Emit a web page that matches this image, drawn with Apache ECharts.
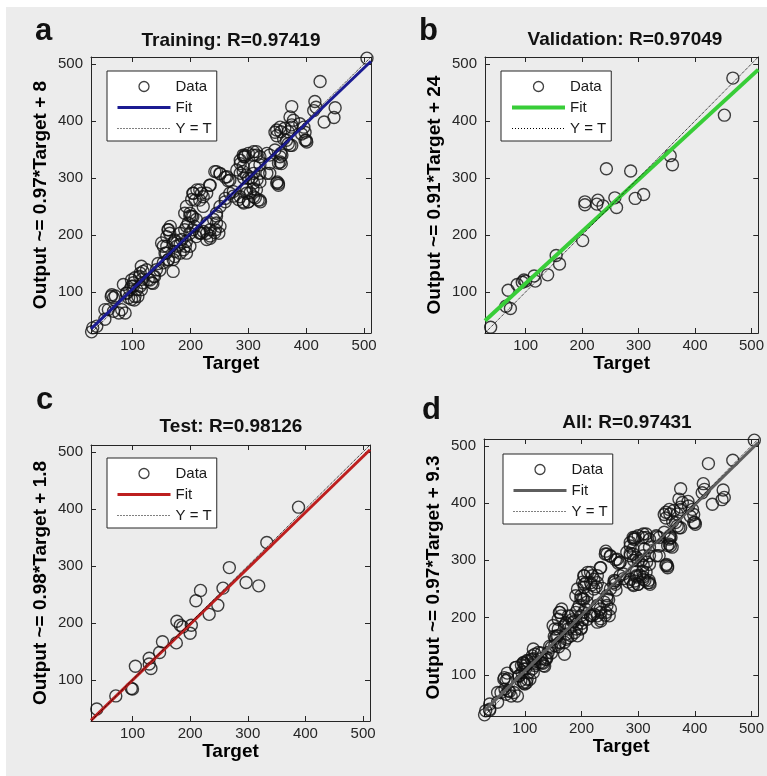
<!DOCTYPE html>
<html>
<head>
<meta charset="utf-8">
<script src="https://cdn.jsdelivr.net/npm/echarts@6/dist/echarts.min.js"></script>
<style>
  html, body { margin: 0; padding: 0; background: #fff; }
  #main { width: 767px; height: 776px; }
</style>
</head>
<body>
<div id="main"></div>
<script>
// [Target, Output] pairs
const trainData = [
  [505,510],[424,469],[415,434],[417,424],[413,418],[450,423],[448,406],[431,398],
  [375,425],[372,407],[378,401],[375,389],[349,384],[356,381],[363,387],[369,381],
  [389,395],[396,389],[398,380],[400,366],[401,363],[366,366],[375,357],[356,343],[357,325],
  [350,293],[352,287],[337,308],[320,337],[332,343],[337,325],[314,340],[311,320],[309,308],
  [291,340],[294,337],[286,325],[291,320],[280,314],[286,308],[297,305],
  [314,279],[320,261],[297,273],[309,267],[317,261],[291,258],[300,258],[286,267],
  [274,276],[268,273],[263,302],[268,296],[245,311],[251,308],[260,264],[251,250],[245,238],
  [234,287],[228,273],[204,273],[208,261],[216,279],[216,261],[222,267],
  [199,238],[204,232],[210,227],[193,215],[199,203],[204,209],[210,197],[216,203],[222,206],[228,203],[234,194],
  [240,227],[245,233],[251,215],[243,209],[249,203],[234,209],
  [182,203],[185,192],[191,180],[193,189],[199,180],
  [162,209],[164,203],[170,186],[176,180],[182,168],[173,162],
  [159,180],[156,168],[162,157],[153,151],[170,136],[170,157],
  [141,139],[136,127],[127,122],[118,116],[133,116],[124,139],[113,133],[116,122],
  [101,116],[107,104],[104,92],[98,87],[113,110],[90,98],[84,113],[93,90],[98,110],
  [64,95],[67,90],[70,93],[58,69],[67,66],[76,63],[87,63],[52,52],[38,40],[29,30],
  [31,37],[52,69],[63,92],[81,69],[89,98],[95,104],[101,110],[103,86],[109,92],[115,104],
  [98,121],[104,125],[112,127],[118,136],[115,145],[130,121],[135,115],[138,127],[147,138],[144,150],
  [161,156],[158,168],[150,186],[173,171],[182,183],
  [161,209],[173,189],[190,209],[196,221],[202,233],[207,215],[219,203],[228,221],[234,198],[190,238],
  [165,215],[159,197],[153,180],[173,191],[188,174],[193,168],
  [205,273],[211,279],[219,273],[202,262],[193,250],[199,233],[216,204],[228,192],[242,204],[245,221],[222,250],
  [242,311],[251,307],[260,301],[265,295],[233,287],[260,258],[274,268],[283,262],[292,256],
  [297,280],[303,274],[312,265],[321,258],[300,258],
  [286,331],[292,337],[300,343],[309,346],[320,323],[332,308],[349,291],[352,326],
  [346,349],[355,337],[292,300],[306,300],[309,291],[315,297],[320,308],
  [375,393],[355,389],[346,380],[349,374],[361,368],[372,357],[369,360],[392,377],[398,366],
  [337,340],[308,340],[314,346],[294,340],[355,328],[358,340],[352,290],[291,311],[300,299],[320,293],[308,281]
];
const valData = [
  [467,475],[452,410],[356,339],[360,323],[243,316],[286,312],[294,264],[309,271],
  [258,265],[261,248],[228,261],[226,254],[237,251],[205,258],[205,253],[201,190],
  [154,164],[160,149],[139,130],[115,128],[117,119],[97,121],[100,119],[94,117],
  [85,113],[69,103],[65,75],[73,71],[38,38]
];
const testData = [
  [503,513],[388,403],[333,341],[268,297],[297,271],[319,265],[257,261],[218,257],[210,239],
  [248,231],[233,215],[177,203],[183,196],[187,193],[202,196],[200,182],[176,165],
  [152,167],[147,148],[129,138],[129,128],[132,120],[105,124],[98,85],[100,84],[71,72],[38,49]
];
const allData = trainData.concat(valData, testData);

// fitted lines, end points at the axis limits
const fitTrain = [[28,35.2],[512,504.6]];
const fitVal = [[28,49.5],[512,489.9]];
const fitTest = [[28,29.2],[512,503.6]];
const fitAll = [[28,36.5],[512,505.9]];
const identity = [[28,28],[512,512]];

const axisMin = 28, axisMax = 512;
const tickValues = [100, 200, 300, 400, 500];

const FONT = 'Liberation Sans, Arial, Helvetica, sans-serif';

const panels = [
  { key: 'a', title: 'Training: R=0.97419', yName: 'Output ~= 0.97*Target + 8', data: trainData, fit: fitTrain,
    color: '#1b1b92', fitWidth: 3, grid: { left: 91, top: 57, width: 280, height: 276 },
    titlePos: [231, 41], letterPos: [35, 31], legendPos: [107, 71] },
  { key: 'b', title: 'Validation: R=0.97049', yName: 'Output ~= 0.91*Target + 24', data: valData, fit: fitVal,
    color: '#38cd38', fitWidth: 4, grid: { left: 485, top: 57, width: 279, height: 276 },
    titlePos: [625, 40], letterPos: [419, 31], legendPos: [501, 71] },
  { key: 'c', title: 'Test: R=0.98126', yName: 'Output ~= 0.98*Target + 1.8', data: testData, fit: fitTest,
    color: '#bd1f1f', fitWidth: 3, grid: { left: 91, top: 445, width: 279, height: 276 },
    titlePos: [231, 427], letterPos: [36, 400], legendPos: [107, 458] },
  { key: 'd', title: 'All: R=0.97431', yName: 'Output ~= 0.97*Target + 9.3', data: allData, fit: fitAll,
    color: '#5e5e5e', fitWidth: 3, grid: { left: 484, top: 439, width: 281, height: 277 },
    titlePos: [627, 423], letterPos: [422, 410], legendPos: [503, 454] }
];

const boxColor = '#262626';
const noMarker = { color: 'rgba(0,0,0,0)', borderColor: 'rgba(0,0,0,0)', borderWidth: 0, opacity: 0 };

const grid = [], xAxis = [], yAxis = [], series = [], legend = [];
const graphic = [
  { type: 'rect', shape: { x: 6, y: 7, width: 767, height: 776 }, style: { fill: '#ececec' }, z: -10, silent: true }
];

panels.forEach((p, i) => {
  grid.push(p.grid);
  const common = {
    type: 'value', min: axisMin, max: axisMax, gridIndex: i,
    splitLine: { show: false },
    axisLine: { show: true, lineStyle: { color: boxColor, width: 1 } },
    axisTick: { show: true, inside: true, length: 5, customValues: tickValues, lineStyle: { color: boxColor } }
  };
  xAxis.push(Object.assign({}, common, {
    position: 'bottom',
    name: 'Target', nameLocation: 'middle', nameGap: 18,
    nameTextStyle: { fontFamily: FONT, fontSize: 19, fontWeight: 'bold', color: '#000' },
    axisLabel: { customValues: tickValues, fontFamily: FONT, fontSize: 15, color: '#262626', margin: 5 }
  }));
  xAxis.push(Object.assign({}, common, { position: 'top', axisLabel: { show: false } }));
  yAxis.push(Object.assign({}, common, {
    position: 'left',
    name: p.yName, nameLocation: 'middle', nameGap: 41,
    nameTextStyle: { fontFamily: FONT, fontSize: 19, fontWeight: 'bold', color: '#000' },
    axisLabel: { customValues: tickValues, fontFamily: FONT, fontSize: 15, color: '#262626', margin: 8 }
  }));
  yAxis.push(Object.assign({}, common, { position: 'right', axisLabel: { show: false } }));

  series.push({
    name: p.key + '|Data', type: 'scatter', xAxisIndex: i * 2, yAxisIndex: i * 2,
    data: p.data, symbol: 'circle', symbolSize: 12, z: 2,
    itemStyle: { color: 'rgba(0,0,0,0)', borderColor: '#111', borderWidth: 1.4 },
    emphasis: { disabled: true }
  });
  series.push({
    name: p.key + '|Fit', type: 'line', xAxisIndex: i * 2, yAxisIndex: i * 2,
    data: p.fit, symbol: 'none', z: 3, clip: true,
    lineStyle: { color: p.color, width: p.fitWidth }, itemStyle: { color: p.color }
  });
  series.push({
    name: p.key + '|Y = T', type: 'line', xAxisIndex: i * 2, yAxisIndex: i * 2,
    data: identity, symbol: 'none', z: 4,
    lineStyle: { color: '#000', width: 1, type: 'dotted' }, itemStyle: { color: '#000' }
  });

  legend.push({
    left: p.legendPos[0], top: p.legendPos[1], orient: 'vertical',
    data: [
      { name: p.key + '|Data', itemStyle: { color: 'rgba(0,0,0,0)', borderColor: '#111', borderWidth: 1.3 } },
      { name: p.key + '|Fit', itemStyle: noMarker, lineStyle: { color: p.color, width: p.fitWidth } },
      { name: p.key + '|Y = T', itemStyle: noMarker, lineStyle: { color: '#000', width: 1, type: [1, 2] } }
    ],
    formatter: name => name.split('|')[1],
    itemWidth: 53, itemHeight: 10, itemGap: 6,
    padding: [8, 5, 5, 9],
    backgroundColor: '#fff', borderColor: boxColor, borderWidth: 1, borderRadius: 0,
    selectedMode: false,
    textStyle: { fontFamily: FONT, fontSize: 15, color: '#1a1a1a' }
  });

  graphic.push({
    type: 'text', x: p.titlePos[0], y: p.titlePos[1],
    style: { text: p.title, font: 'bold 19px ' + FONT, fill: '#111', align: 'center', verticalAlign: 'middle' }
  });
  graphic.push({
    type: 'text', x: p.letterPos[0], y: p.letterPos[1],
    style: { text: p.key, font: 'bold 31px ' + FONT, fill: '#111', align: 'left', verticalAlign: 'middle' }
  });
});

const chart = echarts.init(document.getElementById('main'));
chart.setOption({
  backgroundColor: '#fff',
  animation: false,
  grid: grid,
  xAxis: xAxis,
  yAxis: yAxis,
  legend: legend,
  graphic: graphic,
  series: series
});
</script>
</body>
</html>
